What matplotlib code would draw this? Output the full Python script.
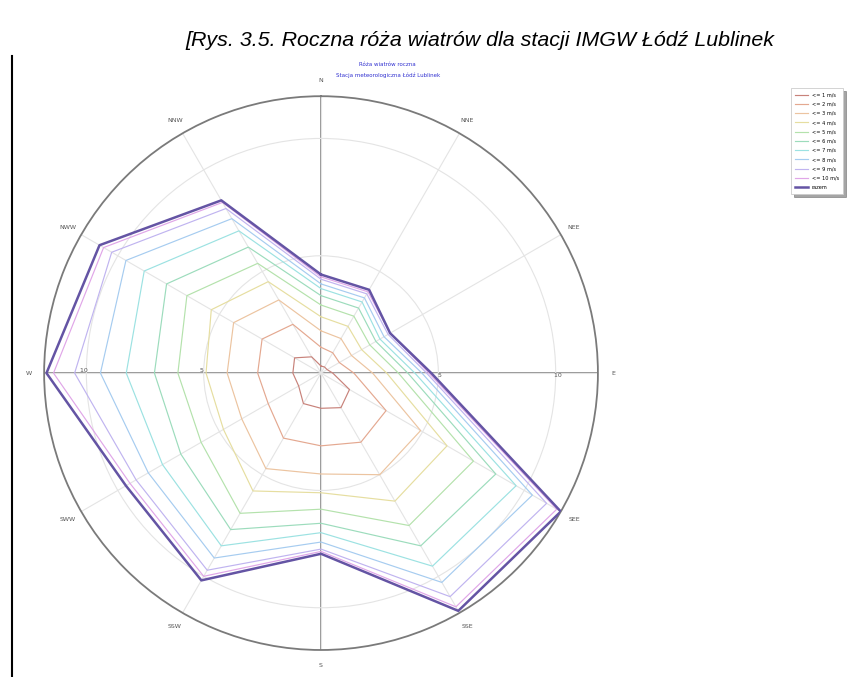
import numpy as np
import matplotlib
matplotlib.use("Agg")
import matplotlib.pyplot as plt
from matplotlib.lines import Line2D

# directions clockwise from north
directions = ["N", "NNE", "NEE", "E", "SEE", "SSE", "S", "SSW", "SWW", "W", "NWW", "NNW"]

# cumulative frequency [%] for wind speed classes
v1 = [0.3, 0.3, 0.3, 0.5, 1.4, 1.7, 1.5, 1.5, 1.1, 1.2, 1.3, 0.8]
v2 = [1.1, 1.0, 0.9, 1.4, 3.2, 3.4, 3.1, 3.2, 2.6, 2.7, 2.9, 2.4]
v3 = [1.8, 1.7, 1.5, 2.2, 4.9, 5.0, 4.3, 4.7, 3.9, 4.0, 4.3, 3.6]
v4 = [2.4, 2.3, 2.0, 2.8, 6.2, 6.3, 5.1, 5.8, 4.8, 4.9, 5.4, 4.5]
v5 = [2.9, 2.8, 2.4, 3.3, 7.5, 7.5, 5.8, 6.9, 5.9, 6.1, 6.6, 5.4]
v6 = [3.3, 3.2, 2.7, 3.7, 8.6, 8.5, 6.4, 7.7, 6.9, 7.1, 7.6, 6.2]
v7 = [3.6, 3.5, 2.9, 4.0, 9.6, 9.5, 6.8, 8.5, 7.8, 8.3, 8.7, 7.0]
v8 = [3.8, 3.7, 3.1, 4.3, 10.4, 10.3, 7.2, 9.1, 8.5, 9.4, 9.6, 7.6]
v9 = [4.0, 3.9, 3.3, 4.5, 11.1, 11.0, 7.5, 9.7, 9.1, 10.5, 10.3, 8.1]
v10 = [4.1, 4.0, 3.4, 4.6, 11.6, 11.5, 7.6, 10.0, 9.4, 11.4, 10.7, 8.4]
razem = [4.2, 4.1, 3.4, 4.7, 11.8, 11.7, 7.7, 10.2, 9.6, 11.7, 10.9, 8.5]

series_labels = ["<= 1 m/s", "<= 2 m/s", "<= 3 m/s", "<= 4 m/s", "<= 5 m/s",
                 "<= 6 m/s", "<= 7 m/s", "<= 8 m/s", "<= 9 m/s", "<= 10 m/s", "razem"]
series = [v1, v2, v3, v4, v5, v6, v7, v8, v9, v10, razem]
colors = ["#c8827a", "#e4a890", "#ecc4a0", "#e6dea0", "#b4e2ac", "#9cdcbc",
          "#9ce2e2", "#a6ccf0", "#c0b4f0", "#e0a6e8", "#6454a4"]

rmax = 11.8

fig = plt.figure(figsize=(8.58, 6.77), dpi=100)
ax = fig.add_axes([0.0513, 0.0399, 0.6457, 0.818], projection="polar")
ax.set_theta_zero_location("N")
ax.set_theta_direction(-1)
ax.set_ylim(0, rmax)

theta = np.deg2rad(np.arange(0, 360, 30))
theta_c = np.append(theta, theta[0])

# grid
ax.set_thetagrids(np.arange(0, 360, 30), [""] * 12)
ax.set_rgrids([5, 10], ["", ""])
ax.grid(color="#e4e4e4", linewidth=0.8)
ax.spines["polar"].set_color("#7a7a7a")
ax.spines["polar"].set_linewidth(1.3)
ax.tick_params(length=0)

# main cross
for a in [0, 90, 180, 270]:
    ax.plot([np.deg2rad(a)] * 2, [0, rmax], color="#7a7a7a", lw=1.1, zorder=1)

for vals, lab, col in zip(series, series_labels, colors):
    lw = 1.8 if lab == "razem" else 0.85
    ax.plot(theta_c, np.append(vals, vals[0]), color=col, lw=lw, label=lab, zorder=3)

# direction labels
for t, d in zip(theta, directions):
    ax.text(t, rmax * 1.055, d, fontsize=4.5, color="#555555",
            ha="center", va="center", clip_on=False)

# radial tick labels on both sides
for r in [5, 10]:
    ax.text(np.deg2rad(270), r, str(r) + "  ", fontsize=4.5, color="#555555",
            ha="center", va="bottom", clip_on=False)
    ax.text(np.deg2rad(90), r, "  " + str(r), fontsize=4.5, color="#555555",
            ha="center", va="top", clip_on=False)

# inner chart title
fig.text(0.452, 0.903, "Róża wiatrów roczna", fontsize=4, color="#3030d0", ha="center")
fig.text(0.452, 0.886, "Stacja meteorologiczna Łódź Lublinek", fontsize=4,
         color="#3030d0", ha="center")

# figure caption
fig.text(0.559, 0.94, "[Rys. 3.5. Roczna róża wiatrów dla stacji IMGW Łódź Lublinek",
         fontsize=15.4, style="italic", family="Liberation Sans", ha="center", va="center")

# left margin line
fig.add_artist(Line2D([0.014, 0.014], [0.0, 0.918], color="black", lw=1.5))

leg = fig.legend(loc="upper right", bbox_to_anchor=(0.986, 0.874), fontsize=3.6,
                 frameon=True, fancybox=False, shadow=True, handlelength=2.5,
                 labelspacing=0.85, borderpad=0.9)
leg.get_frame().set_edgecolor("#cccccc")
leg.get_frame().set_linewidth(0.6)

fig.savefig("out.png", dpi=100)
